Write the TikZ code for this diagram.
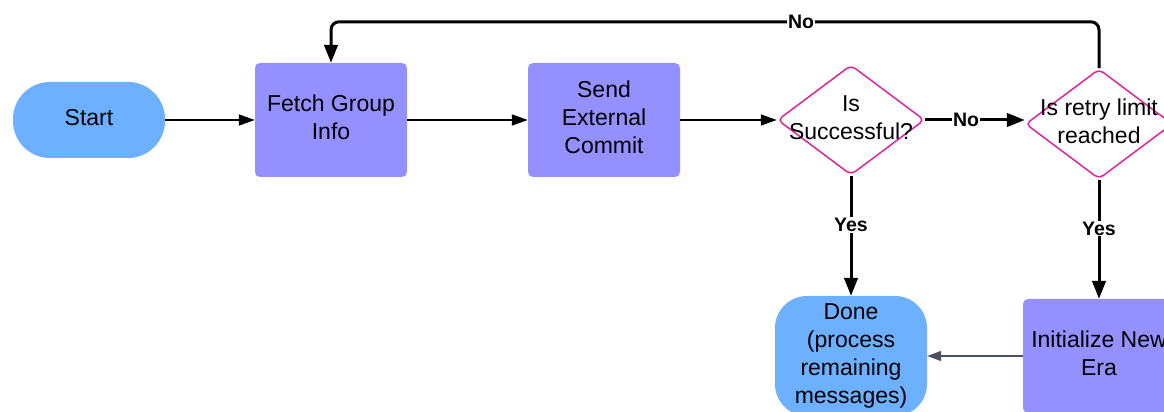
\documentclass[tikz,border=0pt]{standalone}
\usepackage{fontspec}
\setmainfont{Liberation Sans}
\usepackage{tikz}
\usetikzlibrary{positioning, arrows.meta, shapes.geometric}

\definecolor{termblue}{RGB}{108,176,255}
\definecolor{procblue}{RGB}{148,144,255}
\definecolor{decpink}{RGB}{221,36,160}
\definecolor{backgray}{RGB}{74,80,94}

\tikzstyle{terminal} = [rectangle, rounded corners=37pt, minimum width=152pt, minimum height=76pt, align=center, text depth=5pt, fill=termblue]
\tikzstyle{process} = [rectangle, rounded corners=5pt, minimum width=152pt, minimum height=114pt, align=center, text depth=6pt, fill=procblue]
\tikzstyle{decision} = [diamond, rounded corners=5pt, minimum width=147pt, minimum height=110pt, inner sep=0pt, draw=decpink, line width=1.5pt, fill=white]
\tikzstyle{arrow} = [line width=1.6pt, -{Triangle[length=16pt,width=11pt]}]
\tikzstyle{thickarrow} = [line width=3pt, -{Triangle[length=18pt,width=13.5pt]}]
\tikzstyle{backarrow} = [line width=1.2pt, draw=backgray, -{Triangle[length=14pt,width=10pt]}]
\tikzstyle{answer} = [font=\fontsize{19.5}{22}\selectfont\bfseries, fill=white, inner sep=1pt]

\begin{document}
\begin{tikzpicture}[x=1pt, y=1pt, font=\fontsize{23}{28}\selectfont]
\useasboundingbox (0,0) rectangle (1164,412);

\node (start) [terminal] at (89,292) {Start};
\node (fetch) [process] at (331,292) {Fetch Group\\Info};
\node (send) [process] at (604,292) {Send\\External\\Commit};
\node (success) [decision, label={[align=center, yshift=2pt]center:Is\\Successful?}] at (851,292) {};
\node (retry) [decision, label={[align=center, yshift=3pt]center:Is retry limit\\reached}] at (1099,288) {};
\node (done) [terminal, rounded corners=32pt, minimum height=120pt, text depth=5.5pt] at (851,56) {Done\\(process\\remaining\\messages)};
\node (newera) [process] at (1099,56) {Initialize New\\Era};

\draw [arrow] (start) -- (fetch);
\draw [arrow] (fetch) -- (send);
\draw [arrow] (send) -- (success);
\draw [thickarrow] (success.east) -- node[answer, pos=0.41] {No} (success.east -| retry.west);
\draw [thickarrow, rounded corners=8pt] (retry.north) |- node[answer, pos=0.694] {No} ([yshift=41pt]fetch.north) -- (fetch.north);
\draw [thickarrow] (success) -- node[answer, pos=0.41] {Yes} (done);
\draw [thickarrow] (retry) -- node[answer, pos=0.41] {Yes} (newera);
\draw [backarrow] (newera) -- (done);

\end{tikzpicture}
\end{document}
